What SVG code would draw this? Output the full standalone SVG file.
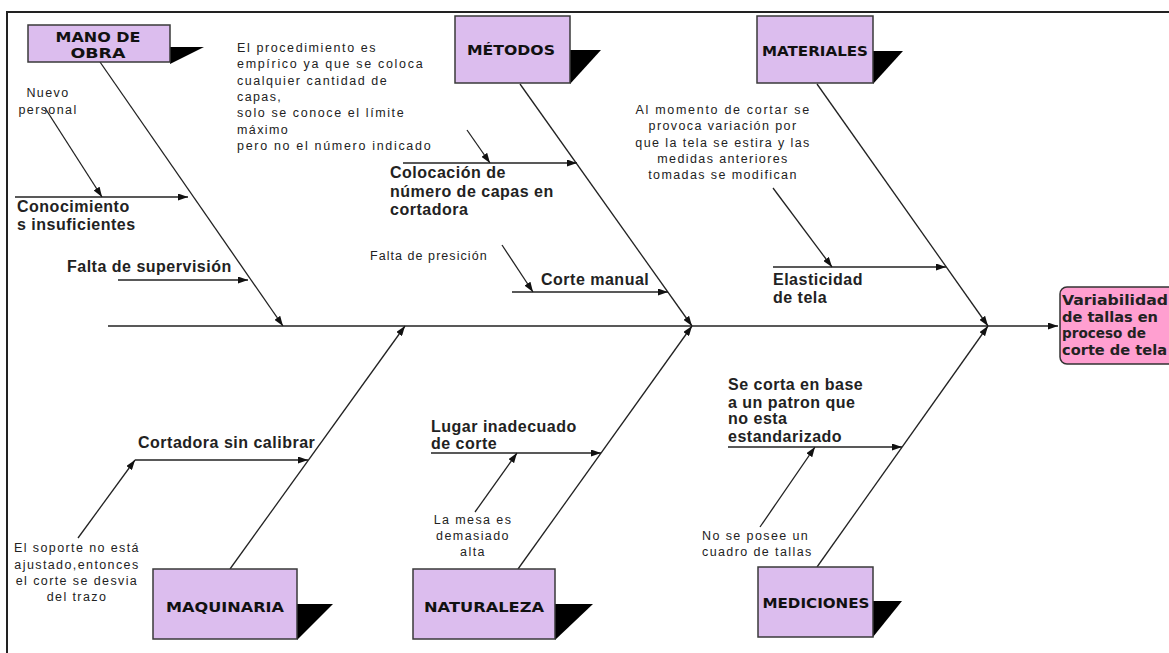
<svg xmlns="http://www.w3.org/2000/svg" width="1169" height="653" viewBox="0 0 1169 653">
<style>
.box{fill:#dcbdee;stroke:#3a3a3a;stroke-width:1.5}
.shd{fill:#000}
.cat{font-family:"DejaVu Sans",sans-serif;font-weight:bold;font-size:14px;fill:#111;text-anchor:middle}
.ln{stroke:#222;stroke-width:1.3;fill:none}
.bl{font-family:"Liberation Sans",Arial,sans-serif;font-weight:bold;font-size:16px;fill:#222;letter-spacing:0.5px}
.sm{font-family:"Liberation Sans",Arial,sans-serif;font-size:12.5px;fill:#222;letter-spacing:1.4px}
.hd{font-family:"DejaVu Sans",sans-serif;font-weight:bold;font-size:14px;fill:#222}
</style>
<defs>
<marker id="ah" viewBox="0 0 10 7" refX="10" refY="3.5" markerWidth="10" markerHeight="7" markerUnits="userSpaceOnUse" orient="auto"><path d="M0,0 L10,3.5 L0,7 z" fill="#111"/></marker>
</defs>
<rect width="1169" height="653" fill="#fff"/>
<path d="M7,653 V12 H1169" fill="none" stroke="#222" stroke-width="2"/>

<g id="connectors">
<line class="ln" x1="108" y1="326" x2="1058" y2="326" stroke-width="2" marker-end="url(#ah)"/>
<line class="ln" x1="100" y1="62" x2="283" y2="326" marker-end="url(#ah)"/>
<line class="ln" x1="520" y1="84" x2="692" y2="326" marker-end="url(#ah)"/>
<line class="ln" x1="817" y1="84" x2="988" y2="326" marker-end="url(#ah)"/>
<line class="ln" x1="230" y1="569" x2="405" y2="326" marker-end="url(#ah)"/>
<line class="ln" x1="518" y1="569" x2="692" y2="326" marker-end="url(#ah)"/>
<line class="ln" x1="817" y1="567" x2="988" y2="326" marker-end="url(#ah)"/>
<line class="ln" x1="15" y1="197" x2="188" y2="197" marker-end="url(#ah)"/>
<line class="ln" x1="45" y1="108" x2="102" y2="197" marker-end="url(#ah)"/>
<line class="ln" x1="118" y1="280" x2="248" y2="280" marker-end="url(#ah)"/>
<line class="ln" x1="403" y1="163" x2="577" y2="163" marker-end="url(#ah)"/>
<line class="ln" x1="467" y1="130" x2="490" y2="163" marker-end="url(#ah)"/>
<line class="ln" x1="512" y1="292" x2="668" y2="292" marker-end="url(#ah)"/>
<line class="ln" x1="502" y1="245" x2="533" y2="292" marker-end="url(#ah)"/>
<line class="ln" x1="773" y1="267" x2="946" y2="267" marker-end="url(#ah)"/>
<line class="ln" x1="773" y1="188" x2="832" y2="267" marker-end="url(#ah)"/>
<line class="ln" x1="135" y1="460" x2="308" y2="460" marker-end="url(#ah)"/>
<line class="ln" x1="78" y1="538" x2="135" y2="460" marker-end="url(#ah)"/>
<line class="ln" x1="431" y1="453" x2="601" y2="453" marker-end="url(#ah)"/>
<line class="ln" x1="475" y1="512" x2="517" y2="453" marker-end="url(#ah)"/>
<line class="ln" x1="728" y1="447" x2="902" y2="447" marker-end="url(#ah)"/>
<line class="ln" x1="760" y1="527" x2="815" y2="447" marker-end="url(#ah)"/>
</g>

<g id="mano-de-obra">
<polygon class="shd" points="170,47 204,47 170,64"/>
<rect class="box" x="28" y="25" width="142" height="37"/>
<text class="cat" x="98" y="42" font-size="13" textLength="85" lengthAdjust="spacingAndGlyphs">MANO DE</text>
<text class="cat" x="98" y="58" font-size="13" textLength="55" lengthAdjust="spacingAndGlyphs">OBRA</text>
</g>
<g id="metodos">
<polygon class="shd" points="570,50 601,50 570,84"/>
<rect class="box" x="455" y="16" width="115" height="67"/>
<text class="cat" x="511" y="55" textLength="88" lengthAdjust="spacingAndGlyphs">MÉTODOS</text>
</g>
<g id="materiales">
<polygon class="shd" points="873,51 903,51 873,84"/>
<rect class="box" x="757" y="16" width="116" height="67"/>
<text class="cat" x="815" y="56" textLength="106" lengthAdjust="spacingAndGlyphs">MATERIALES</text>
</g>
<g id="maquinaria">
<polygon class="shd" points="297,604 333,604 297,640"/>
<rect class="box" x="153" y="569" width="144" height="70"/>
<text class="cat" x="225" y="612" textLength="118" lengthAdjust="spacingAndGlyphs">MAQUINARIA</text>
</g>
<g id="naturaleza">
<polygon class="shd" points="555,604 593,604 555,640"/>
<rect class="box" x="413" y="569" width="142" height="70"/>
<text class="cat" x="484" y="612" textLength="120" lengthAdjust="spacingAndGlyphs">NATURALEZA</text>
</g>
<g id="mediciones">
<polygon class="shd" points="873,601 902,601 873,637"/>
<rect class="box" x="758" y="567" width="115" height="70"/>
<text class="cat" x="816" y="608" textLength="107" lengthAdjust="spacingAndGlyphs">MEDICIONES</text>
</g>

<g id="efecto">
<rect x="1060" y="287" width="120" height="77" rx="7" fill="#ff9fd0" stroke="#333" stroke-width="1.5"/>
<text class="hd" x="1062" y="305" textLength="106" lengthAdjust="spacingAndGlyphs">Variabilidad</text>
<text class="hd" x="1062" y="322" textLength="96" lengthAdjust="spacingAndGlyphs">de tallas en</text>
<text class="hd" x="1062" y="338" textLength="84" lengthAdjust="spacingAndGlyphs">proceso de</text>
<text class="hd" x="1062" y="355" textLength="105" lengthAdjust="spacingAndGlyphs">corte de tela</text>
</g>

<g id="causa-conocimientos">
<text class="bl" x="17" y="212">Conocimiento</text>
<text class="bl" x="17" y="230">s insuficientes</text>
</g>
<g id="subcausa-nuevo-personal">
<text class="sm" x="48" y="97" text-anchor="middle">Nuevo</text>
<text class="sm" x="48" y="114" text-anchor="middle">personal</text>
</g>
<g id="causa-supervision">
<text class="bl" x="67" y="272">Falta de supervisión</text>
</g>
<g id="subcausa-procedimiento">
<text class="sm" x="237" y="52" textLength="140">El procedimiento es</text>
<text class="sm" x="237" y="68" textLength="187">empírico ya que se coloca</text>
<text class="sm" x="237" y="85" textLength="151">cualquier cantidad de</text>
<text class="sm" x="237" y="101">capas,</text>
<text class="sm" x="237" y="117" textLength="168">solo se conoce el límite</text>
<text class="sm" x="237" y="134">máximo</text>
<text class="sm" x="237" y="150" textLength="195">pero no el número indicado</text>
</g>
<g id="causa-colocacion">
<text class="bl" x="390" y="178">Colocación de</text>
<text class="bl" x="390" y="197">número de capas en</text>
<text class="bl" x="390" y="215">cortadora</text>
</g>
<g id="subcausa-presion">
<text class="sm" x="370" y="260" textLength="118">Falta de presición</text>
</g>
<g id="causa-corte-manual">
<text class="bl" x="541" y="285">Corte manual</text>
</g>
<g id="subcausa-variacion">
<text class="sm" x="723" y="114" text-anchor="middle" textLength="175">Al momento de cortar se</text>
<text class="sm" x="723" y="130" text-anchor="middle">provoca variación por</text>
<text class="sm" x="723" y="147" text-anchor="middle">que la tela se estira y las</text>
<text class="sm" x="723" y="163" text-anchor="middle">medidas anteriores</text>
<text class="sm" x="723" y="179" text-anchor="middle">tomadas se modifican</text>
</g>
<g id="causa-elasticidad">
<text class="bl" x="773" y="285">Elasticidad</text>
<text class="bl" x="773" y="303">de tela</text>
</g>
<g id="causa-cortadora">
<text class="bl" x="138" y="448">Cortadora sin calibrar</text>
</g>
<g id="subcausa-soporte">
<text class="sm" x="77" y="552" text-anchor="middle">El soporte no está</text>
<text class="sm" x="77" y="569" text-anchor="middle">ajustado,entonces</text>
<text class="sm" x="77" y="585" text-anchor="middle">el corte se desvia</text>
<text class="sm" x="77" y="601" text-anchor="middle">del trazo</text>
</g>
<g id="causa-lugar">
<text class="bl" x="431" y="432">Lugar inadecuado</text>
<text class="bl" x="431" y="449">de corte</text>
</g>
<g id="subcausa-mesa">
<text class="sm" x="473" y="524" text-anchor="middle">La mesa es</text>
<text class="sm" x="473" y="540" text-anchor="middle">demasiado</text>
<text class="sm" x="473" y="556" text-anchor="middle">alta</text>
</g>
<g id="causa-patron">
<text class="bl" x="728" y="390">Se corta en base</text>
<text class="bl" x="728" y="408">a un patron que</text>
<text class="bl" x="728" y="424">no esta</text>
<text class="bl" x="728" y="442">estandarizado</text>
</g>
<g id="subcausa-cuadro">
<text class="sm" x="702" y="540">No se posee un</text>
<text class="sm" x="702" y="556">cuadro de tallas</text>
</g>
</svg>
